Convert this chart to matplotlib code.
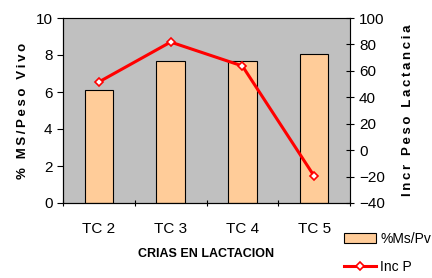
import matplotlib.pyplot as plt
import numpy as np

plt.rcParams['font.family'] = ['Liberation Sans', 'DejaVu Sans']

# datos
categorias = ['TC 2', 'TC 3', 'TC 4', 'TC 5']
ms_pv = [6.1, 7.65, 7.65, 8.05]
inc_p = [51.6, 81.8, 63.7, -19.6]


def espaciar(txt):
    # letras separadas con espacio fino, como en el original
    return '\u2009'.join(txt)


fig = plt.figure(figsize=(4.32, 2.78), dpi=100)
ax = fig.add_axes([63/432, 1 - 203/278, 287/432, 185/278])
ax.set_facecolor('#c0c0c0')

x = np.arange(len(categorias))
b = ax.bar(x, ms_pv, width=0.4, color='#ffcc99', edgecolor='black', linewidth=0.8, label='%Ms/Pv')
ax.set_xlim(-0.5, len(categorias) - 0.5)
ax.set_ylim(0, 10)
ax.set_yticks(range(0, 11, 2))
ax.set_xticks(np.arange(-0.5, len(categorias), 1.0))
ax.set_xticklabels([])
ax.set_xticks(x, minor=True)
ax.set_xticklabels(categorias, minor=True, fontsize=11)
ax.tick_params(axis='x', which='minor', length=0, pad=14)
ax.tick_params(axis='x', which='major', length=5, direction='inout')
ax.tick_params(axis='y', labelsize=11, length=4, direction='out')
ax.set_xlabel('CRIAS EN LACTACION', fontsize=9, fontweight='bold', labelpad=8)
ax.set_ylabel(espaciar('% MS/Peso Vivo'), fontsize=9.5, fontweight='bold', labelpad=5)
for s in ax.spines.values():
    s.set_color('#808080')
ax.spines['left'].set_color('black')
ax.spines['bottom'].set_color('black')

ax2 = ax.twinx()
l, = ax2.plot(x, inc_p, color='red', linewidth=2.2, marker='D', markersize=4,
              markerfacecolor='white', markeredgecolor='red', markeredgewidth=1.2, label='Inc P')
ax2.set_ylim(-40, 100)
ax2.set_yticks(range(-40, 101, 20))
ax2.tick_params(axis='y', labelsize=11, length=6, direction='inout')
ax2.spines['right'].set_color('black')
ax2.set_ylabel(espaciar('Incr Peso Lactancia'), fontsize=9.5, fontweight='bold', labelpad=12)

fig.legend([b, l], ['%Ms/Pv', 'Inc P'], loc='upper left', bbox_to_anchor=(344/432, 1 - 232/278),
           frameon=False, fontsize=10, handlelength=2.3, handletextpad=0.3, labelspacing=1.0,
           borderaxespad=0, borderpad=0)

fig.savefig('out.png', dpi=100)
